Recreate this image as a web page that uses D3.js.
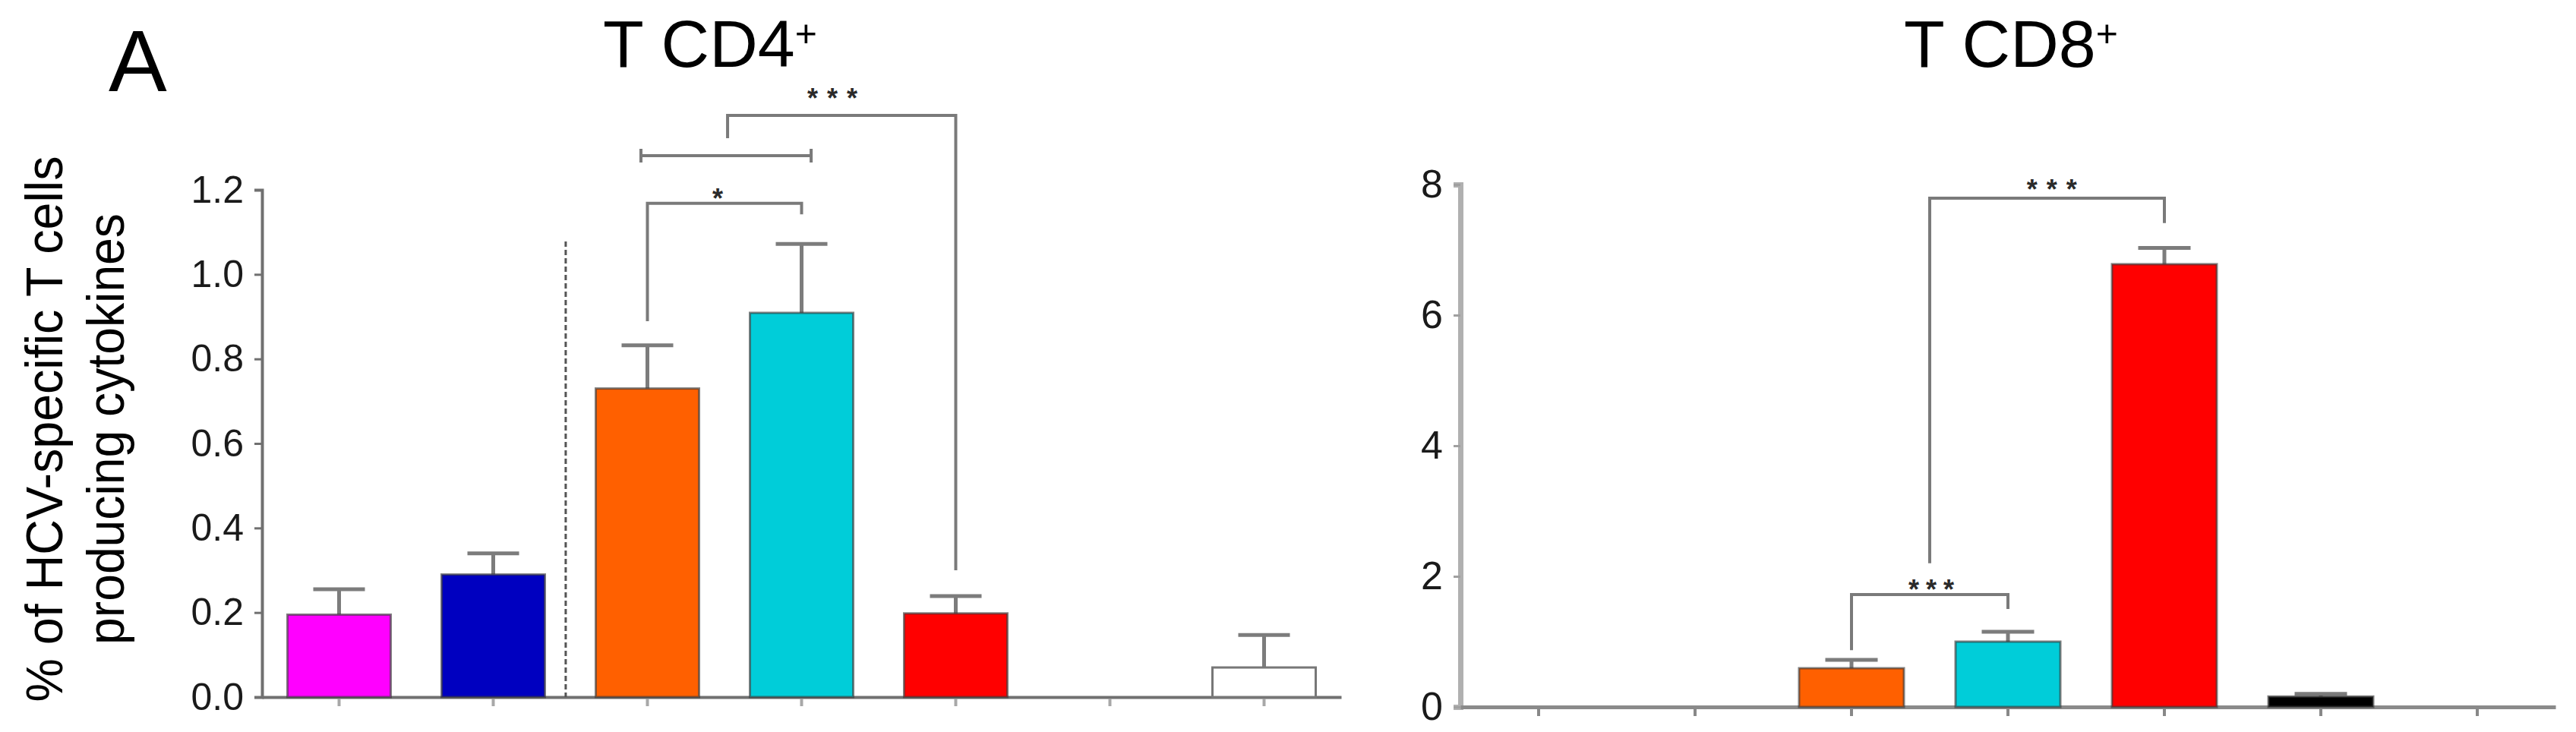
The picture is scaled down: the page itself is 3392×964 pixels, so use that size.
<!DOCTYPE html>
<html>
<head>
<meta charset="utf-8">
<script src="https://cdn.jsdelivr.net/npm/d3@7"></script>
<style>
  body { margin: 0; background: #fff; }
  svg { display: block; }
  text { font-family: "Liberation Sans", Arial, Helvetica, sans-serif; }
</style>
</head>
<body>
<svg id="fig" width="3392" height="964"></svg>
<script>
// groups (no x labels in the figure), one colour per group
const categories = ['g1', 'g2', 'g3', 'g4', 'g5', 'g6', 'g7'];
const groupColors = ['#ff00ff', '#0000c0', '#ff6000', '#00cdd9', '#ff0000', '#000000', '#ffffff'];

// T CD4+ panel: mean and SEM (upper error bar only)
const cd4Means = [0.195, 0.29, 0.73, 0.909, 0.198, null, 0.07];
const cd4Sem   = [0.06, 0.05, 0.102, 0.163, 0.041, null, 0.077];
const cd4Ticks = [0, 0.2, 0.4, 0.6, 0.8, 1.0, 1.2];

// T CD8+ panel
const cd8Means = [null, null, 0.593, 1.0, 6.78, 0.16, null];
const cd8Sem   = [null, null, 0.127, 0.15, 0.25, 0.04, null];
const cd8Ticks = [0, 2, 4, 6, 8];

// significance brackets, x in group index units, y in data units
const cd4Brackets = [
  {x1: 2, x2: 3, y: 1.168, end1: 0.889, end2: 1.142, label: '*', lx: 2.456, ly: 1.193},
  {x1: 1.958, x2: 3.062, y: 1.281, capped: true},
  {x1: 2.52, x2: 4, y: 1.376, end1: 1.322, end2: 0.300, label: '***', lx: 3.2, ly: 1.43}
];
const cd8Brackets = [
  {x1: 2, x2: 3, y: 1.72, end1: 0.87, end2: 1.5, label: '***', lx: 2.51, ly: 1.88, spacing: 9},
  {x1: 2.5, x2: 4, y: 7.79, end1: 2.2, end2: 7.41, label: '***', lx: 3.28, ly: 8.01}
];
const cd4Separator = {at: 1.47, top: 1.078};

const svg = d3.select('#fig');
svg.append('rect').attr('width', 3392).attr('height', 964).attr('fill', '#fff');

function drawPanel(p) {
  const g = svg.append('g');

  const x = d3.scaleBand()
    .domain(categories)
    .range([p.left, p.right])
    .paddingInner(0.33)
    .paddingOuter(0.165);
  const y = d3.scaleLinear().domain(p.domain).range([p.bottom, p.top]);
  const pos = i => p.left + (i + 0.5) * x.step();

  // axes
  const yAxis = d3.axisLeft(y)
    .tickValues(p.ticks)
    .tickSize(p.yTickSize)
    .tickSizeOuter(p.yTickSize)
    .tickPadding(p.tickPad)
    .tickFormat(p.fmt);
  const ya = g.append('g')
    .attr('transform', 'translate(' + p.left + ',0)')
    .call(yAxis);
  ya.select('.domain').attr('stroke', p.yAxisColor).attr('stroke-width', p.yAxisWidth);
  ya.selectAll('.tick line').attr('stroke', p.yTickColor).attr('stroke-width', 3);
  ya.selectAll('.tick text')
    .attr('font-size', p.tickFont)
    .attr('fill', '#1a1a1a')
    .attr('font-family', '"Liberation Sans", Arial, sans-serif');

  const xAxis = d3.axisBottom(x).tickSize(12).tickSizeOuter(0).tickFormat('');
  const xa = g.append('g')
    .attr('transform', 'translate(0,' + p.bottom + ')')
    .call(xAxis);
  xa.select('.domain').attr('stroke', p.xAxisColor).attr('stroke-width', p.xAxisWidth);
  xa.selectAll('.tick line')
    .attr('stroke', p.xTickColor).attr('stroke-width', 4)
    .attr('y1', p.xAxisWidth / 2);

  const rows = categories.map((c, i) => ({cat: c, i: i, v: p.means[i], e: p.sem[i], color: groupColors[i]}))
    .filter(d => d.v !== null);

  // error bars (drawn before bars so the stem starts at the bar top)
  const cap = x.bandwidth() / 4;
  const eb = g.append('g').attr('stroke', '#7c7c7c').attr('stroke-width', 5);
  eb.selectAll('line.stem').data(rows).enter().append('line')
    .attr('x1', d => x(d.cat) + x.bandwidth() / 2)
    .attr('x2', d => x(d.cat) + x.bandwidth() / 2)
    .attr('y1', d => y(d.v))
    .attr('y2', d => y(d.v + d.e));
  eb.selectAll('line.cap').data(rows).enter().append('line')
    .attr('x1', d => x(d.cat) + x.bandwidth() / 2 - cap)
    .attr('x2', d => x(d.cat) + x.bandwidth() / 2 + cap)
    .attr('y1', d => y(d.v + d.e))
    .attr('y2', d => y(d.v + d.e));

  g.selectAll('rect.bar').data(rows).enter().append('rect')
    .attr('class', 'bar')
    .attr('x', d => x(d.cat))
    .attr('y', d => y(d.v))
    .attr('width', x.bandwidth())
    .attr('height', d => y(0) - y(d.v))
    .attr('fill', d => d.color)
    .attr('stroke', d => d.color === '#ffffff' ? '#777' : 'rgba(60,60,60,0.65)')
    .attr('stroke-width', 3);

  // brackets
  const bg = g.append('g').attr('fill', 'none').attr('stroke', '#7a7a7a').attr('stroke-width', 4);
  p.brackets.forEach(b => {
    const xa1 = pos(b.x1), xa2 = pos(b.x2), yb = y(b.y);
    if (b.capped) {
      bg.append('path').attr('d',
        'M' + xa1 + ',' + (yb - 9) + 'V' + (yb + 9) +
        'M' + xa1 + ',' + yb + 'H' + xa2 +
        'M' + xa2 + ',' + (yb - 9) + 'V' + (yb + 9));
    } else {
      bg.append('path').attr('d',
        'M' + xa1 + ',' + y(b.end1) + 'V' + yb + 'H' + xa2 + 'V' + y(b.end2));
    }
    if (b.label) {
      const ls = b.spacing !== undefined ? b.spacing : 12;
      g.append('text')
        .attr('x', pos(b.lx) + ls / 2)
        .attr('y', y(b.ly) + 20)
        .attr('text-anchor', 'middle')
        .attr('font-size', 36)
        .attr('font-weight', 'bold')
        .attr('letter-spacing', ls)
        .attr('fill', '#2a2a2a')
        .text(b.label);
    }
  });

  if (p.separator) {
    g.append('line')
      .attr('x1', pos(p.separator.at)).attr('x2', pos(p.separator.at))
      .attr('y1', y(p.separator.top)).attr('y2', y(0))
      .attr('stroke', '#555').attr('stroke-width', 3)
      .attr('stroke-dasharray', '7,4');
  }
}

drawPanel({
  left: 345, right: 1766, top: 250, bottom: 918,
  domain: [0, 1.2], ticks: cd4Ticks, fmt: d3.format('.1f'),
  means: cd4Means, sem: cd4Sem, brackets: cd4Brackets, separator: cd4Separator,
  yTickSize: 10, tickPad: 14, tickFont: 50,
  yAxisColor: '#707070', yAxisWidth: 4, yTickColor: '#707070',
  xAxisColor: '#707070', xAxisWidth: 4, xTickColor: '#a8a8a8'
});

drawPanel({
  left: 1923, right: 3365, top: 243, bottom: 931,
  domain: [0, 8], ticks: cd8Ticks, fmt: d3.format('d'),
  means: cd8Means, sem: cd8Sem, brackets: cd8Brackets, separator: null,
  yTickSize: 9, tickPad: 14, tickFont: 52,
  yAxisColor: '#b0b0b0', yAxisWidth: 7, yTickColor: '#a0a0a0',
  xAxisColor: '#8a8a8a', xAxisWidth: 5, xTickColor: '#888'
});

// panel letter and titles
svg.append('text').attr('x', 143).attr('y', 120)
  .attr('font-size', 115).attr('fill', '#000').text('A');

function title(x0, main) {
  const t = svg.append('text').attr('x', x0).attr('y', 88)
    .attr('font-size', 88).attr('fill', '#000');
  t.append('tspan').text(main);
  t.append('tspan').attr('font-size', 50).attr('dy', -27).text('+');
}
title(794, 'T CD4');
title(2507, 'T CD8');

// y axis label (two lines)
svg.append('text')
  .attr('transform', 'translate(82,565) rotate(-90)')
  .attr('text-anchor', 'middle')
  .attr('font-size', 68)
  .attr('textLength', 719)
  .attr('lengthAdjust', 'spacingAndGlyphs')
  .attr('fill', '#000')
  .text('% of HCV-specific T cells');
svg.append('text')
  .attr('transform', 'translate(163,565) rotate(-90)')
  .attr('text-anchor', 'middle')
  .attr('font-size', 68)
  .attr('textLength', 568)
  .attr('lengthAdjust', 'spacingAndGlyphs')
  .attr('fill', '#000')
  .text('producing cytokines');
</script>
</body>
</html>
